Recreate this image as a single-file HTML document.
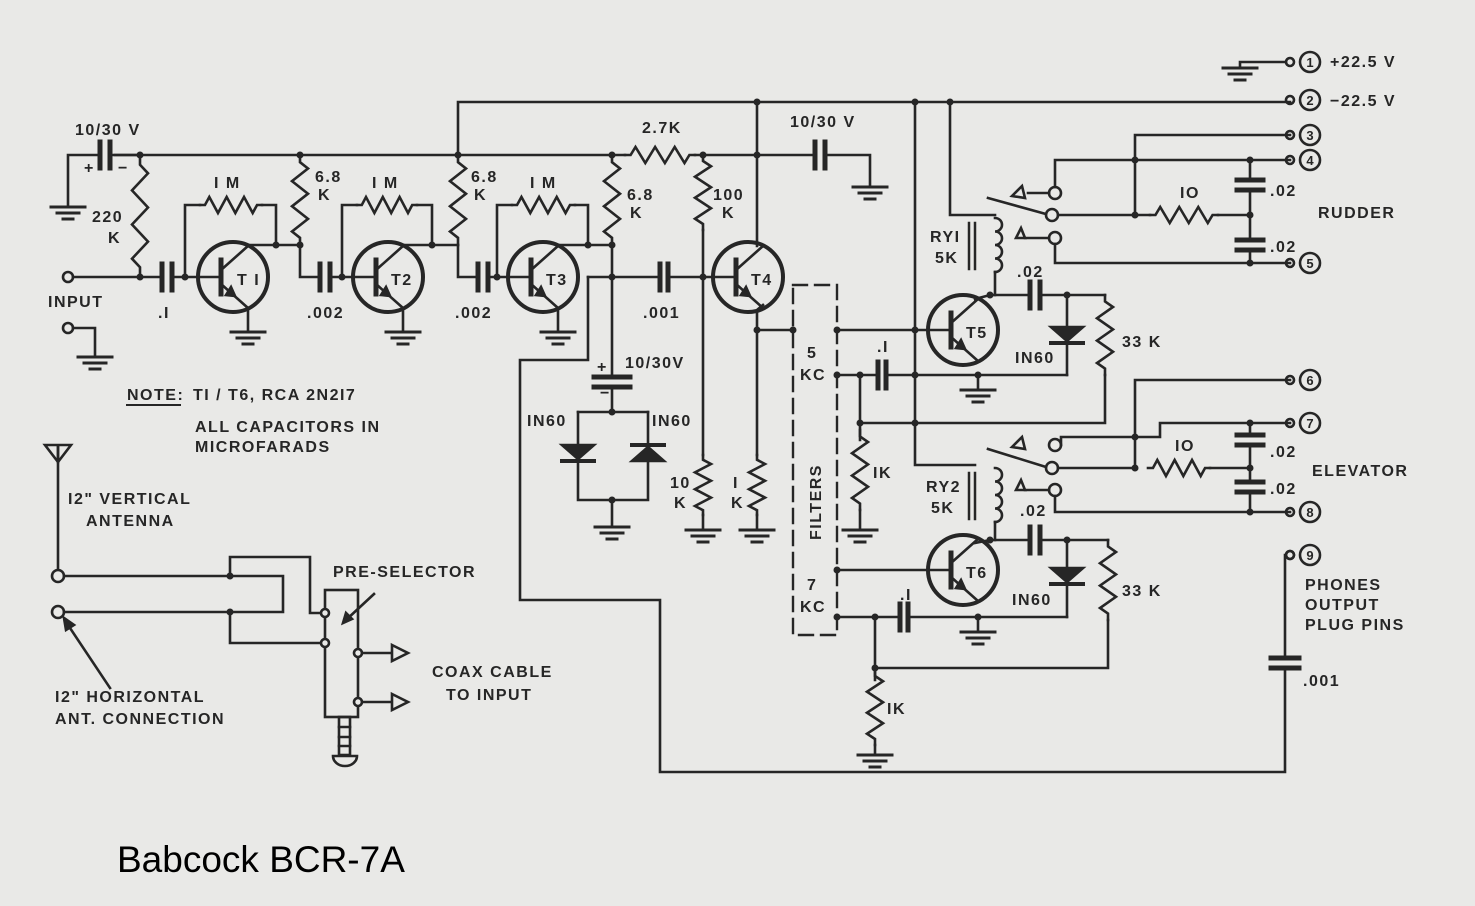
<!DOCTYPE html>
<html><head><meta charset="utf-8">
<style>
html,body{margin:0;padding:0;background:#e9e9e7;}
svg{display:block}
text{font-family:"Liberation Sans",sans-serif;font-weight:bold;fill:#262626;font-size:16px;letter-spacing:1.5px}
</style></head>
<body>
<svg id="s" width="1475" height="906" viewBox="0 0 1475 906" xmlns="http://www.w3.org/2000/svg">
<rect width="1475" height="906" fill="#e9e9e7"/>
<g id="g" stroke="#262626" stroke-width="2.6" fill="none" stroke-linecap="square"></g>
<g id="t">
<text x="75" y="135">10/30 V</text>
<text x="84" y="173" font-size="20">+</text><text x="118" y="173" font-size="20">−</text>
<text x="92" y="222">220</text><text x="108" y="243">K</text>
<text x="214" y="188">I M</text><text x="372" y="188">I M</text><text x="530" y="188">I M</text>
<text x="315" y="182">6.8</text><text x="318" y="200">K</text>
<text x="471" y="182">6.8</text><text x="474" y="200">K</text>
<text x="627" y="200">6.8</text><text x="630" y="218">K</text>
<text x="642" y="133">2.7K</text>
<text x="713" y="200">100</text><text x="722" y="218">K</text>
<text x="790" y="127">10/30 V</text>
<text x="48" y="307">INPUT</text>
<text x="158" y="318">.I</text><text x="307" y="318">.002</text><text x="455" y="318">.002</text><text x="643" y="318">.001</text>
<text x="237" y="285" font-size="15">T I</text><text x="391" y="285" font-size="15">T2</text><text x="546" y="285" font-size="15">T3</text><text x="751" y="285" font-size="15">T4</text>
<text x="966" y="338" font-size="15">T5</text><text x="966" y="578" font-size="15">T6</text>
<text x="597" y="372" font-size="20">+</text><text x="600" y="398" font-size="20">−</text>
<text x="625" y="368">10/30V</text>
<text x="527" y="426">IN60</text><text x="652" y="426">IN60</text>
<text x="670" y="488">10</text><text x="674" y="508">K</text>
<text x="733" y="488">I</text><text x="731" y="508">K</text>
<text x="807" y="358">5</text><text x="800" y="380">KC</text>
<text x="807" y="590">7</text><text x="800" y="612">KC</text>
<text x="0" y="0" transform="translate(821,540) rotate(-90)" letter-spacing="8">FILTERS</text>
<text x="877" y="352">.I</text><text x="873" y="478">IK</text>
<text x="900" y="600">.I</text><text x="887" y="714">IK</text>
<text x="930" y="242">RYI</text><text x="935" y="263">5K</text>
<text x="926" y="492">RY2</text><text x="931" y="513">5K</text>
<text x="1017" y="277">.02</text><text x="1020" y="516">.02</text>
<text x="1015" y="363">IN60</text><text x="1012" y="605">IN60</text>
<text x="1122" y="347">33 K</text><text x="1122" y="596">33 K</text>
<text x="1180" y="198">IO</text><text x="1175" y="451">IO</text>
<text x="1270" y="196">.02</text><text x="1270" y="252">.02</text>
<text x="1270" y="457">.02</text><text x="1270" y="494">.02</text>
<text x="1318" y="218">RUDDER</text><text x="1312" y="476">ELEVATOR</text>
<text x="1330" y="67">+22.5 V</text><text x="1330" y="106">−22.5 V</text>
<text x="1305" y="590">PHONES</text><text x="1305" y="610">OUTPUT</text><text x="1305" y="630">PLUG PINS</text>
<text x="1303" y="686">.001</text>
<text x="127" y="400">NOTE:</text><text x="193" y="400">TI / T6, RCA 2N2I7</text>
<text x="195" y="432">ALL CAPACITORS IN</text><text x="195" y="452">MICROFARADS</text>
<text x="68" y="504">I2" VERTICAL</text><text x="86" y="526">ANTENNA</text>
<text x="333" y="577">PRE-SELECTOR</text>
<text x="432" y="677">COAX CABLE</text><text x="446" y="700">TO INPUT</text>
<text x="55" y="702">I2" HORIZONTAL</text><text x="55" y="724">ANT. CONNECTION</text>
<text x="117" y="872" style="font-weight:normal;font-size:37px;letter-spacing:0;fill:#000">Babcock BCR-7A</text>
</g>
</svg>
<script>
var g=document.getElementById('g'),out='';
function P(d,extra){out+='<path d="'+d+'" '+(extra||'')+'/>';}
function L(){var a=arguments,d='M'+a[0]+' '+a[1];for(var i=2;i<a.length;i+=2)d+=' L'+a[i]+' '+a[i+1];P(d);}
function dot(x,y){out+='<circle cx="'+x+'" cy="'+y+'" r="3.5" fill="#262626" stroke="none"/>';}
function rv(x,y1,y2){var n=6,h=(y2-y1),d='M'+x+' '+y1+' L'+x+' '+(y1+h*0.08);var s=y1+h*0.08,e=y2-h*0.08,st=(e-s)/n;for(var i=0;i<n;i++){d+=' L'+(x+(i%2?-8:8))+' '+(s+st*(i+0.5));}d+=' L'+x+' '+e+' L'+x+' '+y2;P(d,'stroke-linejoin="miter"');}
function rh(x1,x2,y){var n=6,w=x2-x1,s=x1+w*0.08,e=x2-w*0.08,st=(e-s)/n,d='M'+x1+' '+y+' L'+s+' '+y;for(var i=0;i<n;i++){d+=' L'+(s+st*(i+0.5))+' '+(y+(i%2?8:-8));}d+=' L'+e+' '+y+' L'+x2+' '+y;P(d);}
function ch(x,y,gap){gap=gap||10;out+='<path d="M'+x+' '+(y-13)+'V'+(y+13)+'M'+(x+gap)+' '+(y-13)+'V'+(y+13)+'" stroke-width="5"/>';}
function cv(x,y,gap,w){gap=gap||10;w=w||14;out+='<path d="M'+(x-w)+' '+y+'H'+(x+w)+'M'+(x-w)+' '+(y+gap)+'H'+(x+w)+'" stroke-width="5"/>';}
function gnd(x,y){out+='<path d="M'+(x-17)+' '+y+'H'+(x+17)+'M'+(x-11)+' '+(y+6)+'H'+(x+11)+'M'+(x-5)+' '+(y+12)+'H'+(x+5)+'" stroke-width="3"/>';}
function Q(cx,cy){out+='<circle cx="'+cx+'" cy="'+cy+'" r="35" stroke-width="4"/>';
 out+='<path d="M'+(cx-12)+' '+(cy-17)+'V'+(cy+17)+'" stroke-width="5"/>';
 L(cx-35,cy,cx-12,cy);L(cx-12,cy-7,cx+15,cy-31);L(cx-12,cy+7,cx+15,cy+31);
 out+='<path d="M'+(cx+2)+' '+(cy+19)+' l-9 -1 l5 -8z" fill="#262626"/>';}
function term(y,n){out+='<circle cx="1290" cy="'+y+'" r="4"/><circle cx="1310" cy="'+y+'" r="10"/>';out+='<text x="1310" y="'+(y+5)+'" text-anchor="middle" stroke="none" style="font-size:13px;letter-spacing:0">'+n+'</text>';}
function oc(x,y,r){out+='<circle cx="'+x+'" cy="'+y+'" r="'+(r||5)+'" fill="#e9e9e7"/>';}
function diode(x,y,up){ if(!up){out+='<path d="M'+(x-16)+' '+(y-8)+'H'+(x+16)+'L'+x+' '+(y+6)+'Z" fill="#262626"/>';out+='<path d="M'+(x-16)+' '+(y+8)+'H'+(x+16)+'" stroke-width="4"/>';}
 else{out+='<path d="M'+(x-16)+' '+(y+8)+'H'+(x+16)+'L'+x+' '+(y-6)+'Z" fill="#262626"/>';out+='<path d="M'+(x-16)+' '+(y-8)+'H'+(x+16)+'" stroke-width="4"/>';}}
function coil(x,y1,y2){var d='M'+x+' '+y1,n=4,st=(y2-y1)/n;for(var i=0;i<n;i++){d+=' a7 '+(st/2)+' 0 1 1 0 '+st;}P(d);out+='<path d="M'+(x-20)+' '+(y1+5)+'V'+(y2-3)+'M'+(x-26)+' '+(y1+5)+'V'+(y2-3)+'" stroke-width="2.5"/>';}

L(458,155,458,102,1290,102);
L(115,155,625,155);rh(625,695,155);L(695,155,815,155);ch(815,155);L(825,155,870,155,870,185);gnd(870,187);
L(68,205,68,155,100,155);ch(100,155);L(110,155,140,155);dot(140,155);
gnd(68,207);
rv(140,155,277);oc(68,277);L(73,277,162,277);dot(140,277);ch(162,277);L(172,277,198,277);
oc(68,328);L(73,328,95,328,95,355);gnd(95,357);
Q(233,277);dot(185,277);L(185,277,185,205,200,205);rh(200,262,205);L(262,205,276,205,276,245);
L(248,245,300,245);dot(276,245);dot(300,245);rv(300,155,245);dot(300,155);L(300,245,300,277,320,277);ch(320,277);L(330,277,353,277);dot(342,277);
L(248,308,248,330);gnd(248,332);
Q(388,277);L(342,277,342,205,357,205);rh(357,417,205);L(417,205,432,205,432,245);dot(432,245);
L(403,245,458,245);rv(458,155,245);dot(458,155);L(458,245,458,277,478,277);ch(478,277);L(488,277,508,277);dot(497,277);
L(403,308,403,330);gnd(403,332);
Q(543,277);L(497,277,497,205,512,205);rh(512,575,205);L(575,205,588,205,588,245);dot(588,245);
L(558,245,612,245);dot(612,245);rv(612,155,245);dot(612,155);L(612,245,612,375);dot(612,277);
L(588,277,660,277);ch(660,277,8);L(668,277,713,277);dot(703,277);
L(558,308,558,330);gnd(558,332);
L(588,277,588,360,520,360,520,600,660,600,660,772,1285,772,1285,668);cv(1285,658);L(1285,658,1285,555);oc(1290,555,4);
cv(612,377,10,18);L(612,387,612,412);dot(612,412);L(578,412,648,412);L(578,412,578,500,648,500,648,412);diode(578,453,false);diode(648,453,true);dot(612,500);L(612,500,612,525);gnd(612,527);
dot(703,155);rv(703,155,230);L(703,230,703,455);rv(703,455,515);L(703,515,703,528);gnd(703,530);
Q(748,277);L(757,102,757,246);dot(757,155);dot(757,102);L(763,305,757,310,757,455);rv(757,455,515);L(757,515,757,528);gnd(757,530);
dot(757,330);L(757,330,793,330);
out+='<rect x="793" y="285" width="44" height="350" stroke-dasharray="14 8" stroke-width="2.4"/>';
dot(793,330);dot(837,330);dot(837,375);dot(837,570);dot(837,617);
Q(963,330);L(837,330,928,330);L(837,375,878,375);ch(878,375,8);L(886,375,1067,375);dot(860,375);L(860,375,860,440);rv(860,430,510);L(860,510,860,528);gnd(860,530);
dot(978,375);L(978,375,978,388);gnd(978,390);
L(915,102,915,465,975,465);dot(915,102);dot(915,330);dot(915,375);dot(915,423);
L(950,102,950,215,995,215);dot(950,102);coil(995,218,272);L(995,272,995,295);dot(990,295);L(975,299,990,295,1030,295);ch(1030,295);L(1040,295,1105,295);dot(1067,295);
L(1067,295,1067,375);diode(1067,335,false);rv(1105,295,375);L(1105,375,1105,423,860,423);dot(860,423);
oc(1055,193,6);oc(1052,215,6);oc(1055,238,6);L(988,198,1046,214);
out+='<path d="M1012 196 l10 -10 l3 12z" fill="#e9e9e7"/>';
L(1049,193,1028,193);out+='<path d="M1016 238 l5 -10 l4 10 z" fill="#e9e9e7"/>';L(1025,238,1049,238);
L(1055,187,1055,160,1290,160);L(1058,215,1135,215);rh(1150,1218,215);L(1135,215,1150,215);L(1218,215,1250,215);dot(1135,215);dot(1250,215);
L(1135,215,1135,135,1290,135);dot(1135,160);
L(1250,160,1250,178);cv(1250,180,10,13);L(1250,190,1250,240);cv(1250,240,10,13);L(1250,250,1250,263);dot(1250,160);dot(1250,263);
L(1055,244,1055,263,1290,263);
Q(963,570);L(837,570,928,570);L(837,617,900,617);ch(900,617,8);L(908,617,1067,617);dot(875,617);dot(978,617);L(978,617,978,630);gnd(978,632);
L(875,617,875,680);rv(875,670,745);L(875,745,875,753);gnd(875,755);dot(875,668);L(875,668,1108,668,1108,620);
coil(995,468,522);L(995,522,995,540);dot(990,540);L(975,543,990,540,1030,540);ch(1030,540);L(1040,540,1108,540);dot(1067,540);
L(1067,540,1067,617);diode(1067,576,false);rv(1108,540,620);
oc(1055,445,6);oc(1052,468,6);oc(1055,490,6);L(988,449,1046,467);
out+='<path d="M1012 447 l10 -10 l3 12z" fill="#e9e9e7"/>';
L(1061,445,1061,437,1160,437,1160,423,1290,423);out+='<path d="M1016 490 l5 -10 l4 10 z" fill="#e9e9e7"/>';L(1025,490,1049,490);
L(1058,468,1135,468);rh(1148,1210,468);L(1210,468,1250,468);dot(1135,468);dot(1250,468);dot(1135,437);
L(1135,468,1135,380,1290,380);
L(1250,423,1250,433);cv(1250,435,10,13);L(1250,445,1250,480);cv(1250,482,10,13);L(1250,492,1250,512);dot(1250,423);dot(1250,512);
L(1055,496,1055,512,1290,512);
L(1240,68,1240,62,1286,62);gnd(1240,68);
term(62,'1');term(100,'2');term(135,'3');term(160,'4');term(263,'5');term(380,'6');term(423,'7');term(512,'8');term(555,'9');
L(58,446,58,570);out+='<path d="M45 445 H71 L58 462 Z M58 445 V462"/>';
oc(58,576,6);oc(58,612,6);
L(64,576,283,576,283,612,64,612);dot(230,576);dot(230,612);
L(230,576,230,557,310,557,310,613,322,613);L(230,612,230,643,322,643);
out+='<rect x="325" y="590" width="33" height="127"/>';oc(325,613,4);oc(325,643,4);oc(358,653,4);oc(358,702,4);
L(362,653,392,653);L(362,702,392,702);out+='<path d="M392 645 L408 653 L392 661 Z M392 694 L408 702 L392 710 Z" fill="#e9e9e7"/>';
out+='<rect x="339" y="717" width="11" height="38"/><path d="M339 727H350M339 737H350M339 746H350"/><path d="M333 756 H357 A12 10 0 0 1 333 756Z"/>';
L(374,594,346,620);out+='<path d="M343 623 l3 -10 l6 6z" fill="#262626"/>';
L(68,625,110,688);out+='<path d="M64 618 l2 12 l8 -5z" fill="#262626"/>';
out+='<path d="M127 405 H180" stroke-width="2"/>';
g.innerHTML=out;
</script>
</body></html>
